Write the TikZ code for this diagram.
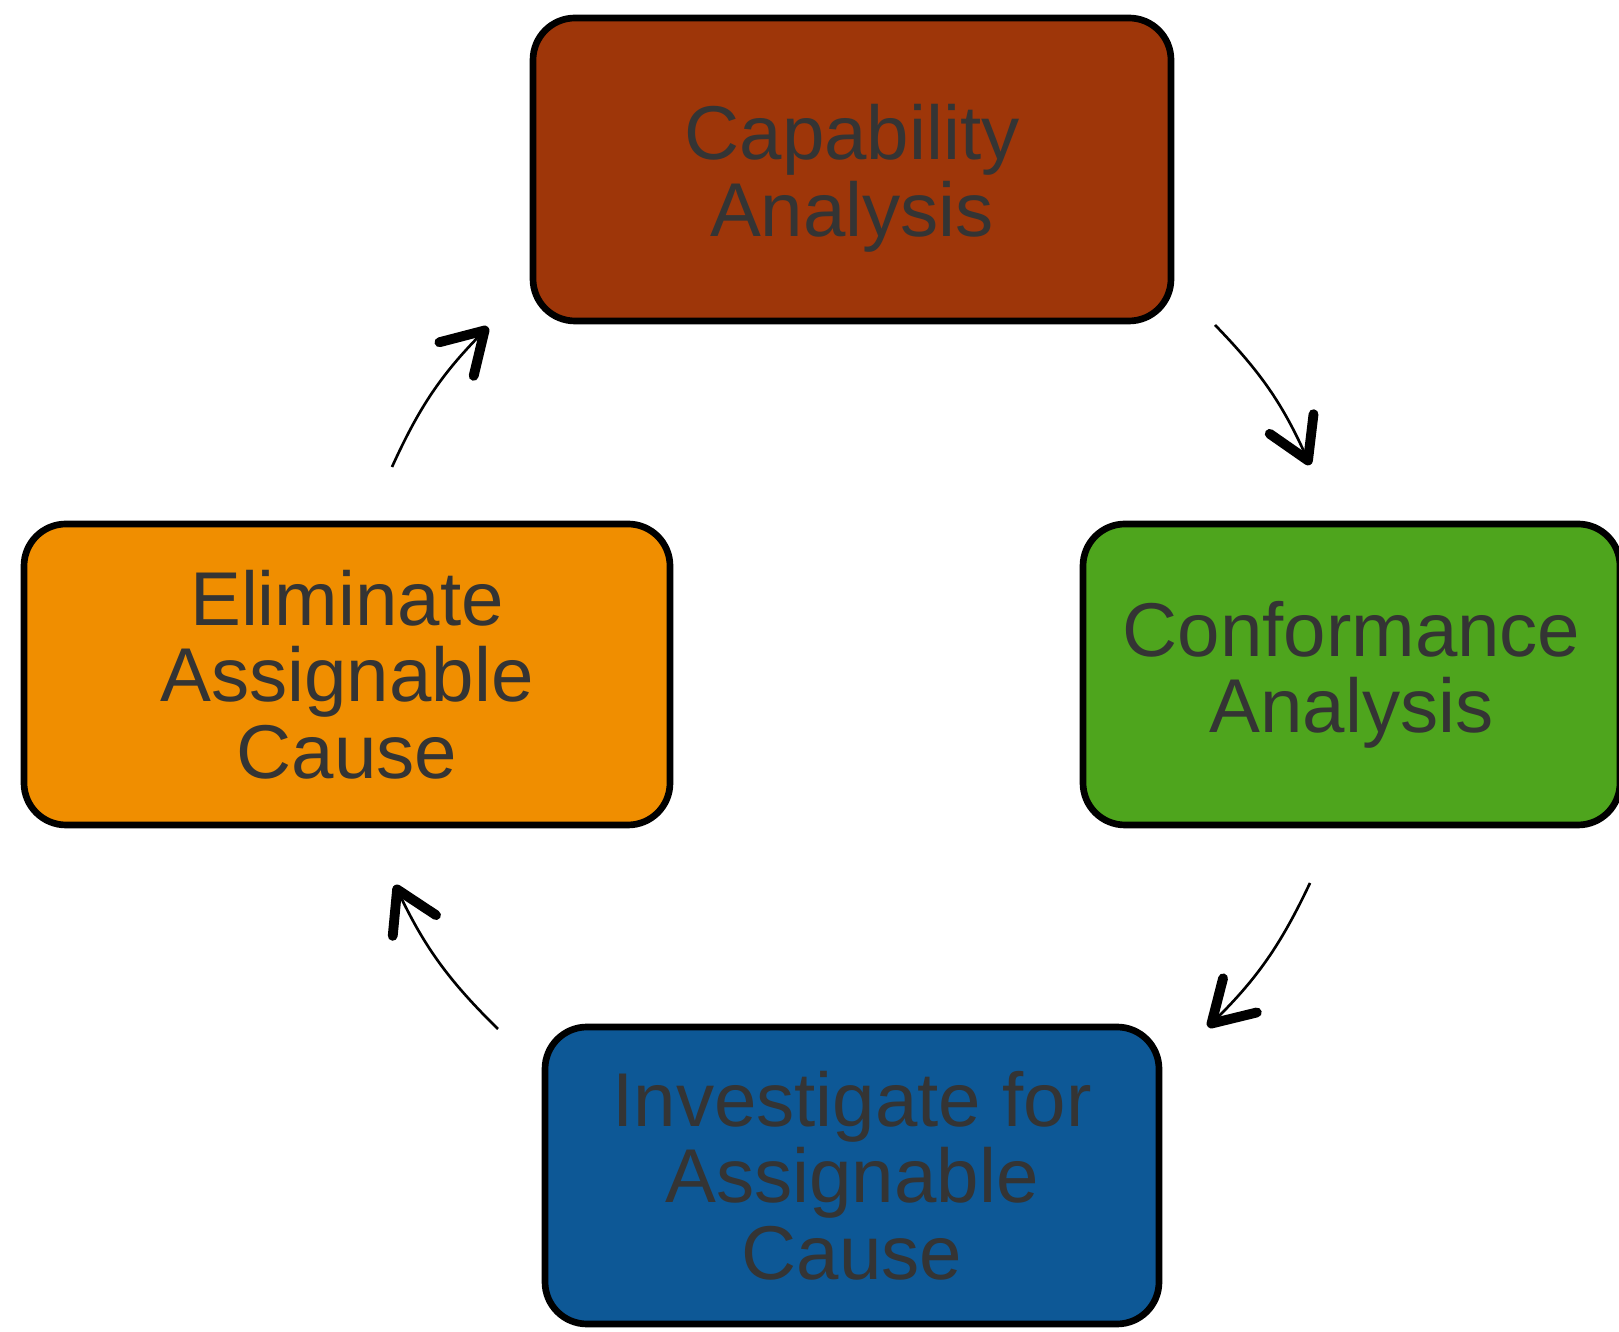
\documentclass[tikz,border=0pt]{standalone}
\usepackage{fontspec}
\setmainfont{Liberation Sans}
\usetikzlibrary{positioning}
\usetikzlibrary{arrows.meta}
\definecolor{color1}{RGB}{158, 54, 9}
\definecolor{color2}{RGB}{78, 165, 29}
\definecolor{color3}{RGB}{13, 88, 150}
\definecolor{color4}{RGB}{240, 142, 0}
\definecolor{textgray}{RGB}{52, 52, 52}
\tikzstyle{stage} = [draw, line width=1.9pt, rounded corners=0.42cm, align=center,
  text=textgray, inner sep=0pt, outer sep=0pt,
  font=\fontsize{21.7}{21.7}\selectfont]
\tikzstyle{cycle} = [draw, line width=0.75pt,
  -{Straight Barb[length=0.40cm, width=0.48cm, line width=2.8pt, round]}]

\begin{document}
\begin{tikzpicture}

  \useasboundingbox (0,0) rectangle (16.19,-13.32);

  % ============================== Stages ======================================

  \node[stage, fill=color1, minimum width=6.38cm, minimum height=3.03cm]
    (cap) at (8.52,-1.695) {\rule{0pt}{0.73cm}Capability\\Analysis};
  \node[stage, fill=color2, minimum width=5.37cm, minimum height=3.01cm]
    (conf) at (13.515,-6.745) {Conformance\\Analysis};
  \node[stage, fill=color3, minimum width=6.14cm, minimum height=2.97cm,
    below=7.06cm of cap] (inv) {Investigate for\\Assignable\\Cause};
  \node[stage, fill=color4, minimum width=6.46cm, minimum height=3.01cm]
    (elim) at (3.47,-6.745) {Eliminate\\Assignable\\Cause};

  % ============================== Connect =====================================

  \path[cycle]
    ([shift={(0.44,-0.04)}]cap.south east)
    to[bend left=10] ([shift={(-0.415,0.59)}]conf.north);
  \path[cycle]
    ([shift={(-0.415,-0.58)}]conf.south)
    to[bend left=10] ([shift={(0.49,0)}]inv.north east);
  \path[cycle]
    ([shift={(-0.47,-0.02)}]inv.north west)
    to[bend left=10] ([shift={(0.48,-0.60)}]elim.south);
  \path[cycle]
    ([shift={(0.45,0.57)}]elim.north)
    to[bend left=10] ([shift={(-0.45,-0.06)}]cap.south west);

\end{tikzpicture}
\end{document}
